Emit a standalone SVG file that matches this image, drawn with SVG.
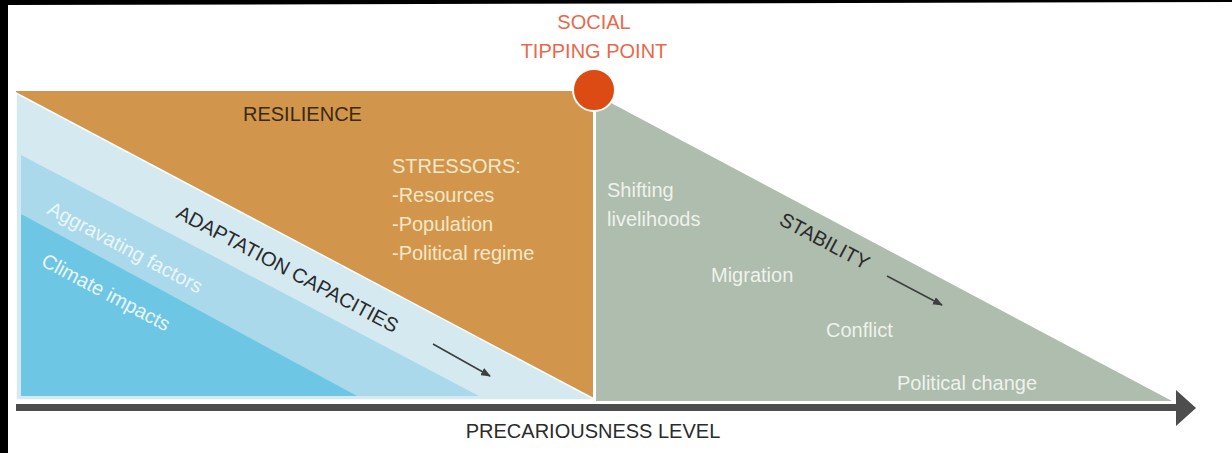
<svg xmlns="http://www.w3.org/2000/svg" width="1232" height="453" viewBox="0 0 1232 453">
<defs>
<style>
text{font-family:"Liberation Sans",Arial,sans-serif;font-size:20px}
.dark{fill:#2b2b2b}
.cream{fill:#f7e7c9}
.pale{fill:#eef2ec}
.ice{fill:#eaf6fb}
.red{fill:#e8694b}
.conn{stroke:#3f3f3f;fill:none}
</style>
<marker id="ah" markerWidth="10" markerHeight="8" refX="9" refY="4" orient="auto" markerUnits="userSpaceOnUse">
<path d="M0,0 L10,4 L0,8 Z" fill="#3f3f3f"/>
</marker>
</defs>
<rect width="1232" height="453" fill="#ffffff"/>
<polygon points="0,0 1232,0 1232,2 0,5" fill="#000"/>
<rect x="0" y="0" width="8" height="453" fill="#000"/>

<g id="resilience">
<rect x="16" y="91" width="577" height="308" fill="#d1964b"/>
<text x="243" y="121" fill="#3a2a12">RESILIENCE</text>
</g>
<g id="stressors">
<text class="cream" x="392" y="173">STRESSORS:</text>
<text class="cream" x="392" y="202">-Resources</text>
<text class="cream" x="392" y="231">-Population</text>
<text class="cream" x="392" y="260">-Political regime</text>
</g>
<g id="adaptation">
<polygon points="16,93 596,400 16,400" fill="#d5e9f0" stroke="#ffffff" stroke-width="1.5"/>
<text class="dark" transform="translate(175,217) rotate(28)">ADAPTATION CAPACITIES</text>
</g>
<g id="aggravating">
<polygon points="21,155 479,396 21,396" fill="#a9d9ea"/>
<text class="ice" transform="translate(46,213) rotate(28)">Aggravating factors</text>
</g>
<g id="climate">
<polygon points="21,214 357,396 21,396" fill="#6dc6e3"/>
<text class="ice" transform="translate(40,265) rotate(28)">Climate impacts</text>
</g>
<g id="stability">
<polygon points="596,95 1172,401 596,401" fill="#aebdad"/>
<text class="dark" transform="translate(778,224) rotate(28)">STABILITY</text>
<text class="pale" x="607" y="197">Shifting</text>
<text class="pale" x="607" y="226">livelihoods</text>
<text class="pale" x="711" y="282">Migration</text>
<text class="pale" x="826" y="337">Conflict</text>
<text class="pale" x="897" y="390">Political change</text>
</g>
<g id="tipping-point">
<circle cx="594" cy="90" r="21" fill="#dc4b14" stroke="#ffffff" stroke-width="2"/>
<text class="red" x="594" y="29" text-anchor="middle">SOCIAL</text>
<text class="red" x="594" y="58" text-anchor="middle">TIPPING POINT</text>
</g>
<g id="axis-label">
<text class="dark" x="593" y="438" text-anchor="middle">PRECARIOUSNESS LEVEL</text>
</g>
<g id="connectors">
<line x1="16" y1="407.5" x2="1180" y2="407.5" stroke="#4d4d4d" stroke-width="7"/>
<polygon points="1176,390 1196,408 1176,426" fill="#4d4d4d"/>
<line class="conn" x1="433" y1="344" x2="490" y2="376" stroke-width="1.6" marker-end="url(#ah)"/>
<line class="conn" x1="887" y1="276" x2="942" y2="305" stroke-width="1.6" marker-end="url(#ah)"/>
</g>
</svg>
